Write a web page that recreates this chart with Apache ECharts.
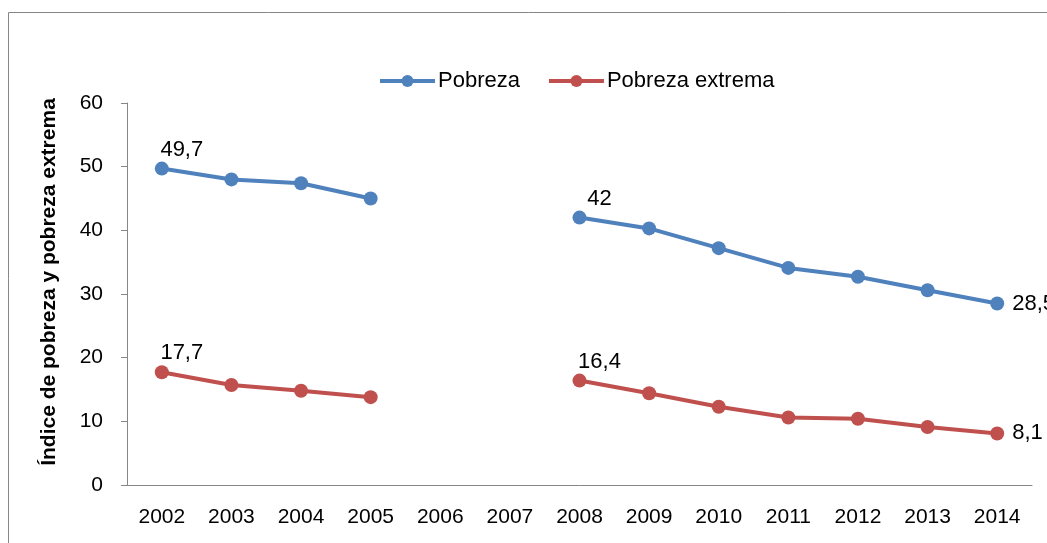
<!DOCTYPE html>
<html>
<head>
<meta charset="utf-8">
<script src="https://cdn.jsdelivr.net/npm/echarts@6/dist/echarts.min.js"></script>
<style>
  html, body { margin: 0; padding: 0; background: #fff; }
  #chart { width: 1047px; height: 543px; }
</style>
</head>
<body>
<div id="chart"></div>
<script>
var years = ['2002', '2003', '2004', '2005', '2006', '2007', '2008', '2009', '2010', '2011', '2012', '2013', '2014'];
var pobreza = [49.7, 48.0, 47.4, 45.0, null, null, 42.0, 40.3, 37.2, 34.1, 32.7, 30.6, 28.5];
var pobrezaExtrema = [17.7, 15.7, 14.8, 13.8, null, null, 16.4, 14.4, 12.3, 10.6, 10.4, 9.1, 8.1];
var labelTop = ['2002', '2008'];   // etiqueta arriba
var labelRight = ['2014'];         // etiqueta a la derecha

var FONT = '"Liberation Sans Narrow", "Arial Narrow", "Liberation Sans", sans-serif';

function fmt(v) {
  return String(v).replace('.', ',');
}

// arma los puntos con etiqueta solo donde hace falta
function buildData(values) {
  return values.map(function (v, i) {
    var y = years[i];
    var item = { value: v };
    if (labelTop.indexOf(y) >= 0) {
      item.label = { show: true, position: 'top', distance: 1, offset: [20, 0] };
    } else if (labelRight.indexOf(y) >= 0) {
      item.label = { show: true, position: 'right', distance: 8 };
    }
    return item;
  });
}

var chart = echarts.init(document.getElementById('chart'));

var opt = {
  animation: false,
  textStyle: { fontFamily: FONT },
  graphic: [
    {
      type: 'rect',
      shape: { x: 8.5, y: 12.5, width: 1100, height: 600 },
      style: { fill: 'none', stroke: '#868686', lineWidth: 1 },
      silent: true
    }
  ],
  legend: {
    top: 65,
    left: 373,
    itemWidth: 55,
    itemHeight: 15,
    itemGap: 27,
    lineStyle: { width: 4 },
    textStyle: { fontFamily: FONT, fontSize: 22, color: '#000', padding: [0, 0, 0, -2] },
    data: ['Pobreza', 'Pobreza extrema']
  },
  grid: {
    left: 127,
    right: 15,
    top: 103,
    bottom: 58
  },
  xAxis: {
    type: 'category',
    data: years,
    boundaryGap: true,
    axisLine: { lineStyle: { color: '#868686', width: 1 } },
    axisTick: { length: 8, lineStyle: { color: '#868686' } },
    axisLabel: { color: '#000', fontSize: 21, fontFamily: FONT, margin: 22, interval: 0 }
  },
  yAxis: {
    type: 'value',
    min: 0,
    max: 60,
    interval: 10,
    name: 'Índice de pobreza y pobreza extrema',
    nameLocation: 'middle',
    nameGap: 67,
    nameTextStyle: {
      fontFamily: FONT, fontSize: 21, fontWeight: 'bold', color: '#000',
      padding: [0, 0, 0, 24]
    },
    axisLine: { show: true, lineStyle: { color: '#868686', width: 1 } },
    axisTick: { show: true, length: 6, lineStyle: { color: '#868686' } },
    axisLabel: { color: '#000', fontSize: 21, fontFamily: FONT, margin: 24 },
    splitLine: { show: false }
  },
  series: [
    {
      name: 'Pobreza',
      type: 'line',
      data: buildData(pobreza),
      connectNulls: false,
      symbol: 'circle',
      symbolSize: 14,
      lineStyle: { color: '#4F81BD', width: 4 },
      itemStyle: { color: '#4F81BD' },
      label: {
        show: false,
        color: '#000',
        fontSize: 22,
        fontFamily: FONT,
        formatter: function (p) { return fmt(p.value); }
      }
    },
    {
      name: 'Pobreza extrema',
      type: 'line',
      data: buildData(pobrezaExtrema),
      connectNulls: false,
      symbol: 'circle',
      symbolSize: 14,
      lineStyle: { color: '#C0504D', width: 4 },
      itemStyle: { color: '#C0504D' },
      label: {
        show: false,
        color: '#000',
        fontSize: 22,
        fontFamily: FONT,
        formatter: function (p) { return fmt(p.value); }
      }
    }
  ]
};

chart.setOption(opt);
</script>
</body>
</html>
